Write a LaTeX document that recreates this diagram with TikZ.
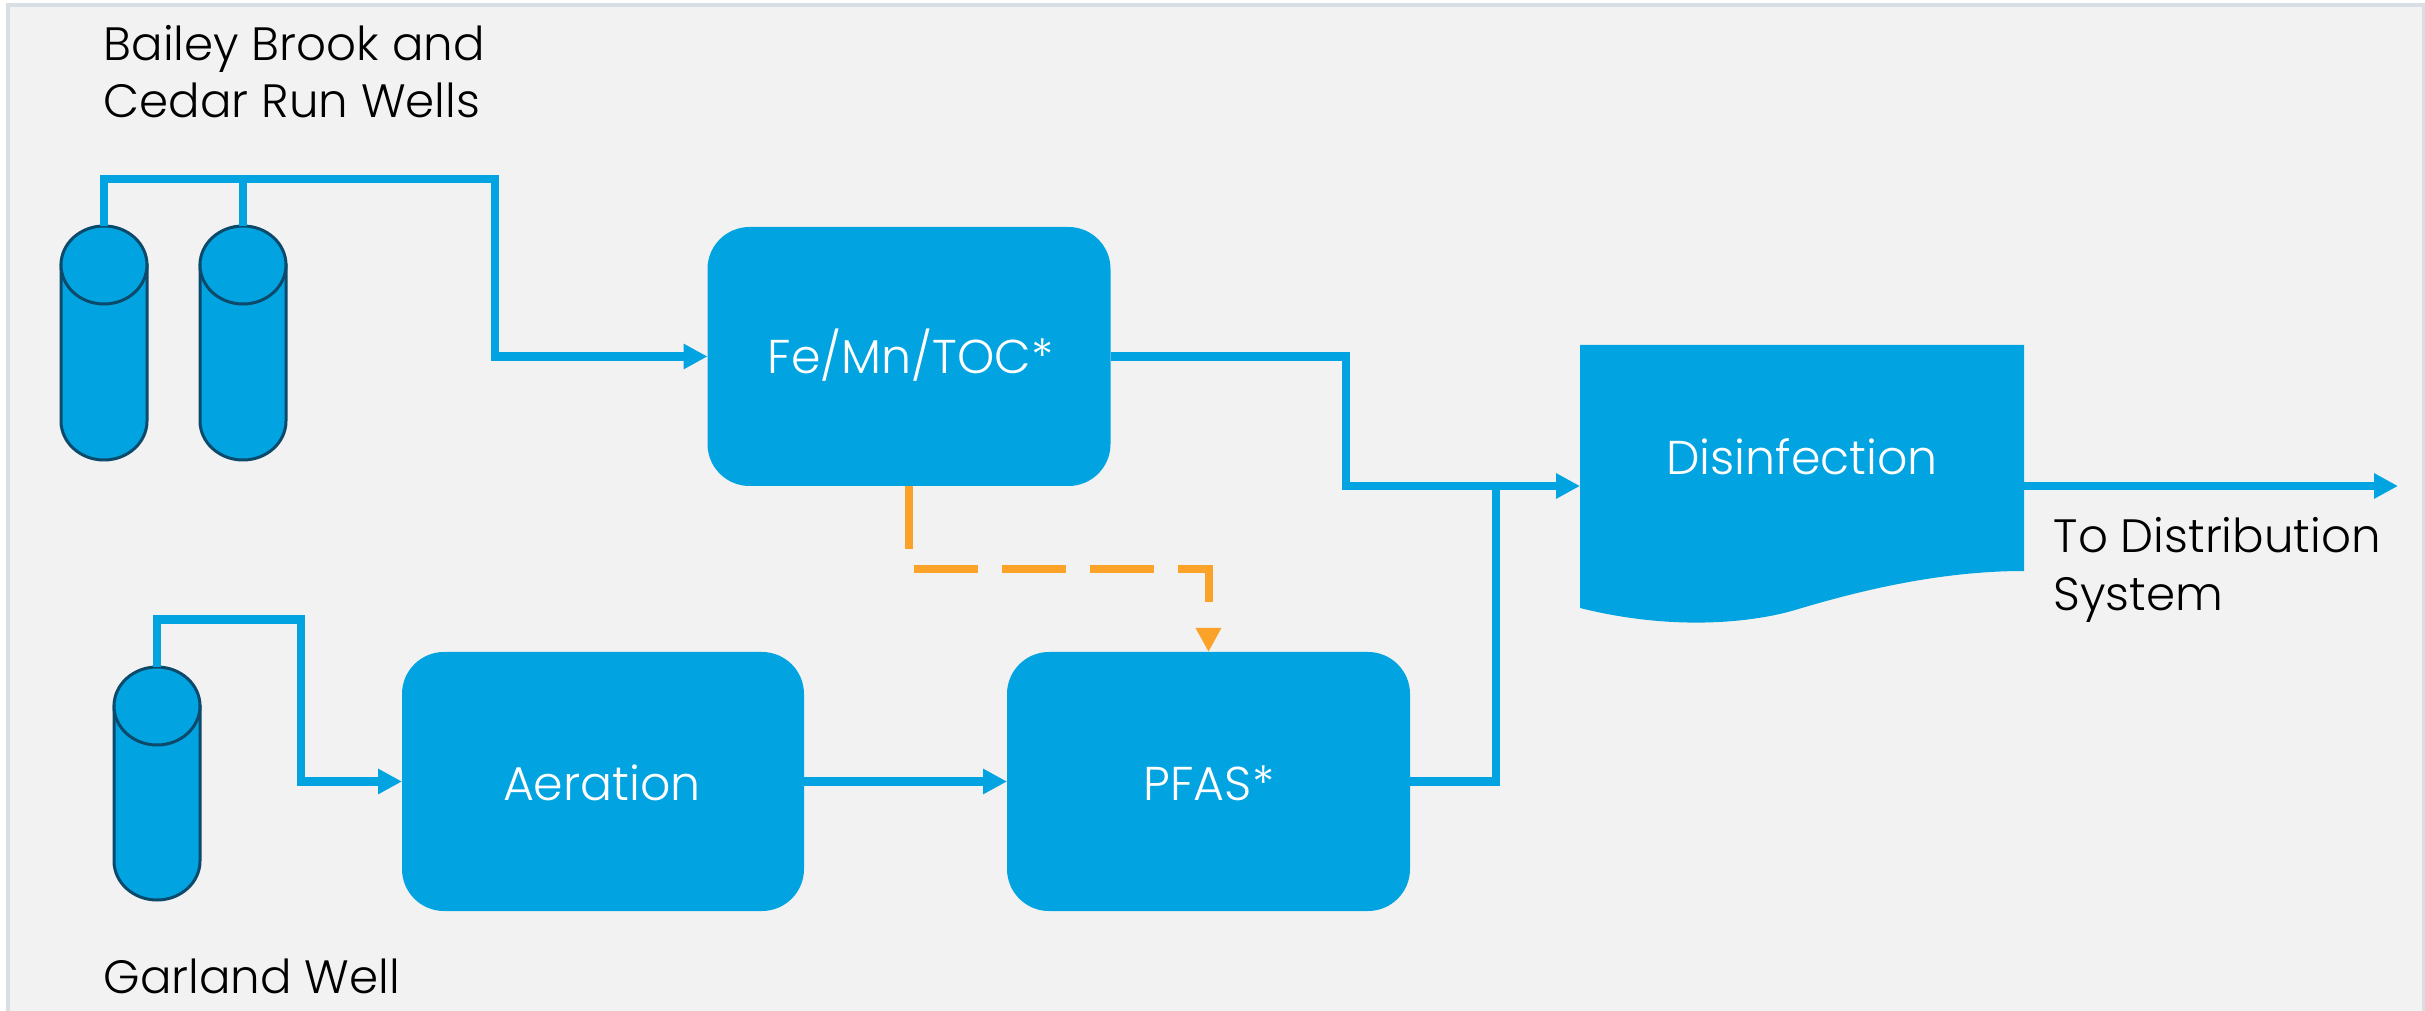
\documentclass[tikz,border=0pt]{standalone}
\usepackage{fontspec}
\setmainfont{Poppins Light}
\usetikzlibrary{arrows.meta, shapes.geometric}

\definecolor{panelgray}{HTML}{F2F2F2}
\definecolor{frameblue}{HTML}{D9DEE4}
\definecolor{procblue}{HTML}{02A3E1}
\definecolor{welledge}{HTML}{0B4A6B}
\definecolor{feedorange}{HTML}{FBA229}

\begin{document}
\begin{tikzpicture}[
    pipe/.style={procblue, line width=0.085cm},
    flow/.style={pipe, -{Triangle[length=0.24cm, width=0.24cm]}},
    feed/.style={feedorange, line width=0.08cm, dash pattern=on 0.635cm off 0.245cm},
    feedtip/.style={feedorange, line width=0.08cm, -{Triangle[length=0.24cm, width=0.24cm]}},
    procbox/.style={rectangle, rounded corners=0.42cm, fill=procblue, inner sep=0pt, outer sep=0pt,
        minimum height=2.59cm},
    boxlabel/.style={anchor=base, text=white, inner sep=0pt, font=\fontsize{13.5}{16}\selectfont},
    wellcap/.style={ellipse, draw=welledge, fill=procblue, line width=0.03cm, inner sep=0pt, outer sep=0pt,
        minimum width=0.86cm, minimum height=0.78cm},
    sitelabel/.style={anchor=base west, align=left, inner sep=0pt, font=\fontsize{13.3}{16.4}\selectfont}
]

    % Panel
    \useasboundingbox (0, 0) rectangle (24.25, 10.10);
    \fill[white] (0, 0) rectangle (24.25, 10.10);
    \fill[panelgray, draw=frameblue, line width=0.04cm] (0.08, -0.2) rectangle (24.24, 10.05);

    % Wells
    \foreach \wname/\wx/\wy/\wb in {wella/1.04/7.45/5.50, wellb/2.43/7.45/5.50, wellc/1.57/3.04/1.10} {
        \draw[welledge, fill=procblue, line width=0.03cm]
            (\wx-0.43, \wy) -- (\wx-0.43, \wb+0.39) arc[start angle=180, end angle=360, x radius=0.43, y radius=0.39]
            -- (\wx+0.43, \wy) -- cycle;
        \node[wellcap] (\wname) at (\wx, \wy) {};
    }

    % Process boxes
    \node[procbox, minimum width=4.03cm] (femn) at (9.09, 6.535) {};
    \node[procbox, minimum width=4.02cm] (aeration) at (6.03, 2.285) {};
    \node[procbox, minimum width=4.03cm] (pfas) at (12.085, 2.285) {};

    % Disinfection sheet
    \node[rectangle, minimum width=4.44cm, minimum height=2.82cm, inner sep=0pt, outer sep=0pt] (disinf) at (18.02, 5.24) {};
    \fill[procblue] (disinf.north west) -- (disinf.north east) -- (20.24, 4.39)
        .. controls (19.4, 4.39) and (18.6, 4.195) .. (17.95, 4.00)
        .. controls (17.6, 3.895) and (16.8, 3.77) .. (15.80, 4.02) -- cycle;

    % Box labels
    \node[boxlabel] (femnlabel) at (9.105, 6.36) {Fe/Mn/TOC*};
    \node[boxlabel] (aerationlabel) at (6.02, 2.10) {Aeration};
    \node[boxlabel] (pfaslabel) at (12.09, 2.10) {PFAS*};
    \node[boxlabel] (disinflabel) at (18.02, 5.35) {Disinfection};

    % Junctions
    \coordinate (topb) at (4.95, 8.31);
    \coordinate (topbranch) at (2.43, 8.31);
    \coordinate (topc) at (3.01, 3.905);
    \coordinate (dropin) at (13.46, 5.24);
    \coordinate (merge) at (14.96, 5.24);
    \coordinate (bendo) at (10.6, 4.41);
    \coordinate (feedend) at (12.085, 4.06);
    \coordinate (tipstart) at (12.085, 3.82);
    \coordinate (outlet) at (23.98, 5.24);

    % Flow lines
    \draw[flow] (wella.north) |- (topb) |- (femn.west);
    \draw[pipe] (wellb.north) -- (topbranch);
    \draw[flow] (wellc.north) |- (topc) |- (aeration.west);
    \draw[flow] (aeration.east) -- (pfas.west);
    \draw[flow] (femn.east) -| (dropin) -- (disinf.west);
    \draw[pipe] (pfas.east) -| (merge);
    \draw[flow] (disinf.east) -- (outlet);
    \draw[feed] (femn.south) |- (bendo) -| (feedend);
    \draw[feedtip] (tipstart) -- (pfas.north);

    % Site labels
    \node[sitelabel] (bailey) at (1.03, 8.92) {Bailey Brook and\\Cedar Run Wells};
    \node[sitelabel] (garland) at (1.03, 0.17) {Garland Well};
    \node[sitelabel] (todist) at (20.53, 4.00) {To Distribution\\System};

\end{tikzpicture}
\end{document}
